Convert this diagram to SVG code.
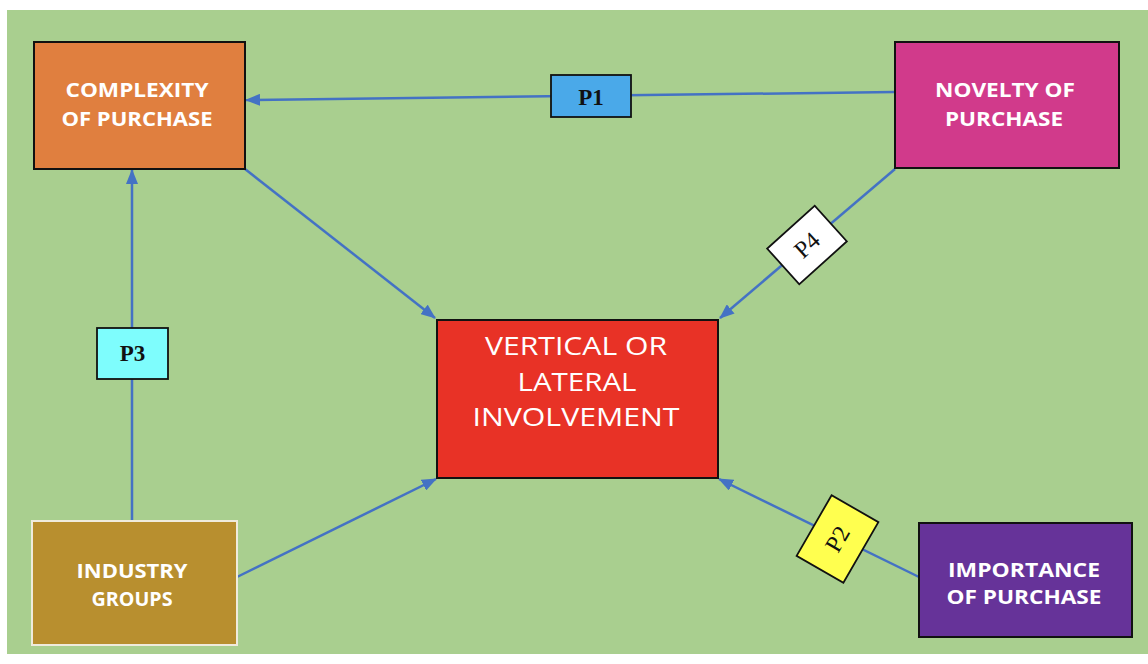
<svg xmlns="http://www.w3.org/2000/svg" width="1148" height="664" viewBox="0 0 1148 664">
  <defs>
    <marker id="arrow" markerUnits="userSpaceOnUse" markerWidth="15" markerHeight="12" refX="14" refY="6" orient="auto">
      <path d="M0,0 L15,6 L0,12 z" fill="#4472C4"/>
    </marker>
    <style>
      .box { stroke: #111; stroke-width: 2; }
      .lbl { font-family: "Open Sans", "Liberation Sans", sans-serif; font-weight: bold; font-size: 19px; fill: #fff; text-anchor: middle; }
      .big { font-family: "Open Sans", "Liberation Sans", sans-serif; font-size: 25px; fill: #fff; text-anchor: middle; }
      .tag { stroke: #111; stroke-width: 1.8; }
      .tagtxt { font-family: "Liberation Serif", "Times New Roman", serif; font-weight: bold; font-size: 23px; fill: #111; text-anchor: middle; }
      .tagtxt.thin { font-weight: normal; font-size: 24px; }
      .link { stroke: #4472C4; stroke-width: 2.5; fill: none; }
    </style>
  </defs>

  <!-- canvas -->
  <rect x="0" y="0" width="1148" height="664" fill="#ffffff"/>
  <rect x="7" y="10" width="1141" height="644" fill="#A9CF8F"/>

  <!-- connectors -->
  <g id="connectors">
    <line class="link" x1="895" y1="92" x2="246" y2="100" marker-end="url(#arrow)"/>
    <line class="link" x1="132" y1="521" x2="132" y2="170" marker-end="url(#arrow)"/>
    <line class="link" x1="245" y1="169" x2="435" y2="318" marker-end="url(#arrow)"/>
    <line class="link" x1="895" y1="169" x2="720" y2="318" marker-end="url(#arrow)"/>
    <line class="link" x1="237" y1="577" x2="436" y2="479" marker-end="url(#arrow)"/>
    <line class="link" x1="919" y1="577" x2="719" y2="479" marker-end="url(#arrow)"/>
  </g>

  <!-- proposition tags -->
  <g id="p1">
    <rect class="tag" x="551" y="75" width="80" height="42" fill="#4AA9E9"/>
    <text class="tagtxt" x="591" y="105">P1</text>
  </g>
  <g id="p3">
    <rect class="tag" x="97" y="328" width="71" height="51" fill="#7EFDFD"/>
    <text class="tagtxt" x="132.5" y="361">P3</text>
  </g>
  <g id="p4" transform="translate(807,245) rotate(-42)">
    <rect class="tag" x="-32" y="-24" width="64" height="48" fill="#ffffff" stroke-width="1.2"/>
    <text class="tagtxt thin" x="0" y="8">P4</text>
  </g>
  <g id="p2" transform="translate(837.5,539) rotate(-60)">
    <rect class="tag" x="-35" y="-27" width="70" height="54" fill="#FFFF4F" stroke-width="1.2"/>
    <text class="tagtxt thin" x="0" y="8">P2</text>
  </g>

  <!-- nodes -->
  <g id="complexity">
    <rect class="box" x="34" y="42" width="211" height="127" fill="#E07F3F"/>
    <text class="lbl" x="137" y="97" textLength="143" lengthAdjust="spacingAndGlyphs">COMPLEXITY</text>
    <text class="lbl" x="137" y="126" textLength="151" lengthAdjust="spacingAndGlyphs">OF PURCHASE</text>
  </g>
  <g id="novelty">
    <rect class="box" x="895" y="42" width="224" height="126" fill="#D13A8B"/>
    <text class="lbl" x="1005" y="97" textLength="140" lengthAdjust="spacingAndGlyphs">NOVELTY OF</text>
    <text class="lbl" x="1004" y="126" textLength="118" lengthAdjust="spacingAndGlyphs">PURCHASE</text>
  </g>
  <g id="involvement">
    <rect class="box" x="437" y="320" width="281" height="158" fill="#E83226"/>
    <text class="big" x="576" y="355" textLength="182" lengthAdjust="spacingAndGlyphs">VERTICAL OR</text>
    <text class="big" x="577" y="391" textLength="119" lengthAdjust="spacingAndGlyphs">LATERAL</text>
    <text class="big" x="576" y="426" textLength="207" lengthAdjust="spacingAndGlyphs">INVOLVEMENT</text>
  </g>
  <g id="industry">
    <rect x="32" y="521" width="205" height="124" fill="#B88F2F" stroke="#EFEBDD" stroke-width="2"/>
    <text class="lbl" x="132" y="578" textLength="111" lengthAdjust="spacingAndGlyphs">INDUSTRY</text>
    <text class="lbl" x="132" y="606" textLength="81" lengthAdjust="spacingAndGlyphs">GROUPS</text>
  </g>
  <g id="importance">
    <rect class="box" x="919" y="523" width="213" height="114" fill="#663399"/>
    <text class="lbl" x="1024" y="577" textLength="152" lengthAdjust="spacingAndGlyphs">IMPORTANCE</text>
    <text class="lbl" x="1024" y="604" textLength="155" lengthAdjust="spacingAndGlyphs">OF PURCHASE</text>
  </g>
</svg>
